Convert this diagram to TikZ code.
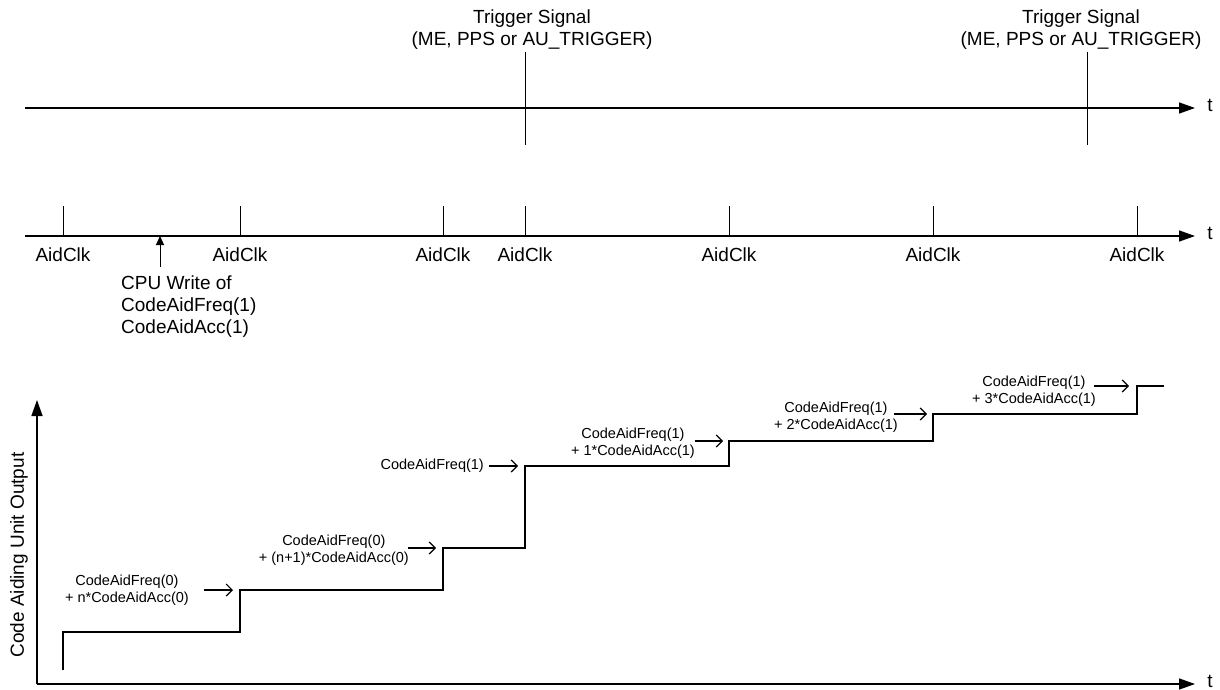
\documentclass[tikz,border=0pt]{standalone}
\usepackage{fontspec}
\setmainfont{Liberation Sans}
\usetikzlibrary{arrows.meta}

\tikzset{
  axis/.style={line width=1.5pt, -{Triangle[length=16pt,width=11pt]}},
  tick/.style={line width=0.9pt},
  stairs/.style={line width=2pt},
  biglabel/.style={font=\fontsize{19}{22}\selectfont, align=center, inner sep=0pt},
  smalllabel/.style={font=\fontsize{14.5}{17.5}\selectfont, align=center, inner sep=0pt},
  clklabel/.style={biglabel, anchor=north, yshift=-11pt},
  pointer/.style={line width=1.2pt, -{Straight Barb[length=6pt,width=12pt]}},
  cpuarrow/.style={line width=1pt, -{Triangle[length=9pt,width=8pt]}},
}

\begin{document}
\begin{tikzpicture}[x=1pt, y=-1pt]
\useasboundingbox (0,0) rectangle (1220,690);

% Trigger time line
\draw[axis] (25,108) -- (1195,108);
\node[biglabel] (tTrig) at (1210,105) {t};
\node[biglabel, anchor=north] (trig1) at (532,10) {Trigger Signal\\(ME, PPS or AU\_TRIGGER)};
\node[biglabel, anchor=north] (trig2) at (1081,10) {Trigger Signal\\(ME, PPS or AU\_TRIGGER)};
\draw[tick] (525,52) -- (525,145);
\draw[tick] (1087,52) -- (1087,145);

% Aiding clock time line
\draw[axis] (25,236) -- (1195,236);
\node[biglabel] (tClk) at (1210,233) {t};
\draw[tick] (63,206) -- (63,236) node[clklabel] (clk1) {AidClk};
\draw[tick] (240,206) -- (240,236) node[clklabel] (clk2) {AidClk};
\draw[tick] (443,206) -- (443,236) node[clklabel] (clk3) {AidClk};
\draw[tick] (525,206) -- (525,236) node[clklabel] (clk4) {AidClk};
\draw[tick] (729,206) -- (729,236) node[clklabel] (clk5) {AidClk};
\draw[tick] (933,206) -- (933,236) node[clklabel] (clk6) {AidClk};
\draw[tick] (1137,206) -- (1137,236) node[clklabel] (clk7) {AidClk};

% CPU write
\coordinate (cpu) at (160,236);
\node[biglabel, align=left, anchor=north west] (cpuWrite) at (121,276) {CPU Write of\\CodeAidFreq(1)\\CodeAidAcc(1)};
\draw[cpuarrow] ([yshift=9pt]cpuWrite.north -| cpu) -- (cpu);

% Output axes
\draw[axis] (37,684) -- (37,400);
\draw[axis] (37,684) -- (1195,684);
\node[biglabel] (tOut) at (1210,681) {t};
\node[biglabel, rotate=90] (yLabel) at (19,555) {Code Aiding Unit Output};

% Staircase output
\draw[stairs] (63,670) -- (63,632) -- (240,632) -- (240,590) coordinate (s1)
  -- (443,590) -- (443,548) coordinate (s2)
  -- (525,548) -- (525,466) coordinate (s3)
  -- (729,466) -- (729,441) coordinate (s4)
  -- (933,441) -- (933,414) coordinate (s5)
  -- (1137,414) -- (1137,386) coordinate (s6)
  -- (1164,386);

% Step values
\node[smalllabel, anchor=east] (val1) at (189,590) {CodeAidFreq(0)\\+ n*CodeAidAcc(0)};
\node[smalllabel, anchor=east] (val2) at (409,550) {CodeAidFreq(0)\\+ (n+1)*CodeAidAcc(0)};
\node[smalllabel, anchor=east] (val3) at (484,466) {CodeAidFreq(1)};
\node[smalllabel, anchor=east] (val4) at (695,443) {CodeAidFreq(1)\\+ 1*CodeAidAcc(1)};
\node[smalllabel, anchor=east] (val5) at (898,417) {CodeAidFreq(1)\\+ 2*CodeAidAcc(1)};
\node[smalllabel, anchor=east] (val6) at (1096,391) {CodeAidFreq(1)\\+ 3*CodeAidAcc(1)};

\draw[pointer] ([xshift=15pt]val1.east |- s1) -- ([xshift=-7pt]s1);
\draw[pointer] ([xshift=-1pt]val2.east |- s2) -- ([xshift=-7pt]s2);
\draw[pointer] ([xshift=5pt]val3.east |- s3) -- ([xshift=-7pt]s3);
\draw[pointer] ([xshift=0pt]val4.east |- s4) -- ([xshift=-6pt]s4);
\draw[pointer] ([xshift=-4pt]val5.east |- s5) -- ([xshift=-6pt]s5);
\draw[pointer] ([xshift=-2pt]val6.east |- s6) -- ([xshift=-8pt]s6);
\end{tikzpicture}
\end{document}
